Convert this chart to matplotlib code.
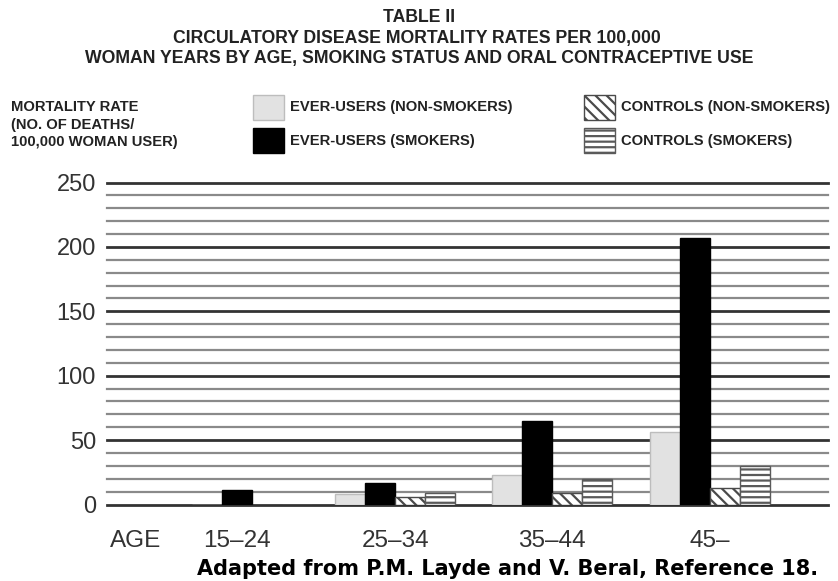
import matplotlib.pyplot as plt
import matplotlib.transforms as mtransforms
from matplotlib.patches import Rectangle

# values (deaths per 100,000 woman years)
age_groups = ['15\u201324', '25\u201334', '35\u201344', '45\u2013']
ever_non_smokers = [0, 8, 23, 56]
ever_smokers = [11, 17, 65, 207]
controls_non_smokers = [0, 6, 9, 13]
controls_smokers = [0, 9, 20, 30]

series_labels = ['EVER-USERS (NON-SMOKERS)', 'EVER-USERS (SMOKERS)',
                 'CONTROLS (NON-SMOKERS)', 'CONTROLS (SMOKERS)']

W, H = 838, 581
fig = plt.figure(figsize=(W / 100, H / 100), dpi=100)
fig.patch.set_facecolor('white')
plt.rcParams['hatch.linewidth'] = 1.6


def fx(px):
    return px / W


def fy(py):
    return 1 - py / H


ax = fig.add_axes([fx(107), fy(504.5), fx(828) - fx(107), fy(182.5) - fy(504.5)])

# group centres in bar-width units (the first group sits a bit closer)
centers = [4.83, 9.6, 14.8, 20.07]
label_pos = [4.33, 9.6, 14.8, 20.07]
styles = [
    dict(facecolor='#e2e2e2', edgecolor='#bdbdbd', hatch=None),
    dict(facecolor='black', edgecolor='black', hatch=None),
    dict(facecolor='white', edgecolor='#4a4a4a', hatch='\\\\\\'),
    dict(facecolor='white', edgecolor='#5a5a5a', hatch='---'),
]

all_series = [ever_non_smokers, ever_smokers, controls_non_smokers, controls_smokers]
offsets = [-1.5, -0.5, 0.5, 1.5]
for vals, off, st in zip(all_series, offsets, styles):
    ax.bar([c + off for c in centers], vals, width=1.0, zorder=3, linewidth=1.0, **st)

for v in range(0, 251, 10):
    major = v % 50 == 0
    ax.axhline(v, color='#333333' if major else '#8a8a8a',
               lw=2.0 if major else 1.6, zorder=1, clip_on=False)

ax.set_xlim(0, 24)
ax.set_ylim(0, 250)
for s in ax.spines.values():
    s.set_visible(False)
ax.set_xticks([])
ax.set_yticks([0, 50, 100, 150, 200, 250])
ax.set_yticklabels(['0', '50', '100', '150', '200', '250'], fontsize=17,
                   color='#333333', family='Liberation Sans')
ax.tick_params(axis='y', length=0, pad=8)

# x labels
lab_font = dict(fontsize=17.5, color='#333333', family='Liberation Sans', va='center')
fig.text(fx(110), fy(541), 'AGE', ha='left', **lab_font)
trans = mtransforms.blended_transform_factory(ax.transData, fig.transFigure)
for x, lab in zip(label_pos, age_groups):
    fig.text(x, fy(541), lab, ha='center', transform=trans, **lab_font)

# title
title_font = dict(fontsize=12.7, fontweight='bold', color='#222222',
                  family='Liberation Sans', ha='center', va='center')
fig.text(fx(419), fy(17.5), 'TABLE II', **title_font)
fig.text(fx(417), fy(38), 'CIRCULATORY DISEASE MORTALITY RATES PER 100,000', **title_font)
fig.text(fx(419), fy(58.5), 'WOMAN YEARS BY AGE, SMOKING STATUS AND ORAL CONTRACEPTIVE USE', **title_font)

# legend, drawn by hand
leg_font = dict(fontsize=10.6, fontweight='bold', color='#222222',
                family='Liberation Sans', ha='left', va='center')
fig.text(fx(11), fy(107), 'MORTALITY RATE', **leg_font)
fig.text(fx(11), fy(124.5), '(NO. OF DEATHS/', **leg_font)
fig.text(fx(11), fy(142), '100,000 WOMAN USER)', **leg_font)

boxes = [(253, 107.5), (253, 140.5), (584, 107.5), (584, 140.5)]
for (bx, by), st, lab in zip(boxes, styles, series_labels):
    r = Rectangle((fx(bx), fy(by + 12.5)), fx(31), 25 / H, transform=fig.transFigure,
                  facecolor=st['facecolor'], edgecolor=st['edgecolor'],
                  hatch=st['hatch'], linewidth=1.0)
    fig.add_artist(r)
    fig.text(fx(bx + 37), fy(by), lab, **leg_font)

fig.text(fx(197), fy(569), 'Adapted from P.M. Layde and V. Beral, Reference 18.',
         fontsize=15, fontweight='bold', family='DejaVu Sans', ha='left', va='center',
         color='black')

fig.savefig('out.png', dpi=100)
